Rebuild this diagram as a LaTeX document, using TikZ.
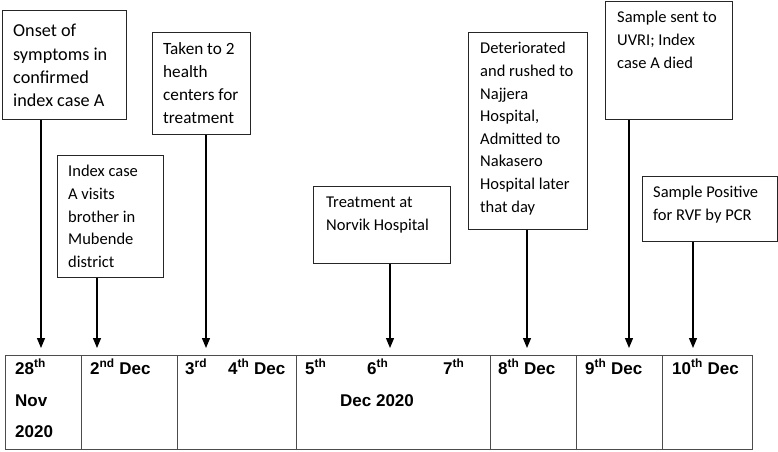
\documentclass[tikz,border=0pt]{standalone}
\usepackage{fontspec}
\setmainfont{Carlito}
\newfontfamily\tabfont{Liberation Sans}
\usetikzlibrary{arrows.meta}
\newcommand{\fl}{\rule{0pt}{14pt}}
\begin{document}
\begin{tikzpicture}[x=1pt,y=-1pt,
  evbox/.style={draw=black!85, line width=0.9pt, anchor=north west, inner sep=0pt},
  evtext/.style={anchor=north west, inner sep=0pt, align=left, font=\fontsize{16.5}{22.6}\selectfont},
  cell/.style={draw=black!70, line width=1.3pt, anchor=north west, inner sep=0pt, minimum height=94pt},
  day/.style={anchor=base west, inner sep=0pt, font=\tabfont\fontsize{17}{20}\selectfont\bfseries},
  arr/.style={line width=1.2pt, draw=black, -{Triangle[width=8pt,length=10pt]}}]
\useasboundingbox (0,0) rectangle (778,451);

% event boxes
\node[evbox, minimum width=124pt, minimum height=109pt] (b1) at (2,10) {};
\node[evtext, font=\fontsize{18.2}{23.3}\selectfont] (t1) at (13,22.6) {\fl Onset of\\symptoms in\\confirmed\\index case A};
\node[evbox, minimum width=106pt, minimum height=122pt] (b2) at (57,155) {};
\node[evtext] (t2) at (68,162.6) {\fl Index case\\A visits\\brother in\\Mubende\\district};
\node[evbox, minimum width=98pt, minimum height=102pt] (b3) at (152,32) {};
\node[evtext, font=\fontsize{17.2}{23}\selectfont] (t3) at (163,40) {\fl Taken to 2\\health\\centers for\\treatment};
\node[evbox, minimum width=137pt, minimum height=77pt] (b4) at (313,186) {};
\node[evtext] (t4) at (326,193.6) {\fl Treatment at\\Norvik Hospital};
\node[evbox, minimum width=119pt, minimum height=197pt] (b5) at (468,32) {};
\node[evtext] (t5) at (480,39.6) {\fl Deteriorated\\and rushed to\\Najjera\\Hospital,\\Admitted to\\Nakasero\\Hospital later\\that day};
\node[evbox, minimum width=127pt, minimum height=118pt] (b6) at (605,1) {};
\node[evtext] (t6) at (617,8.6) {\fl Sample sent to\\UVRI; Index\\case A died};
\node[evbox, minimum width=134.5pt, minimum height=65pt] (b7) at (642,176) {};
\node[evtext] (t7) at (653,183.6) {\fl Sample Positive\\for RVF by PCR};

% arrow targets
\coordinate (a1) at (41,348);
\coordinate (a2) at (97,348);
\coordinate (a3) at (206,348);
\coordinate (a4) at (390,348);
\coordinate (a5) at (527,348);
\coordinate (a6) at (629,348);
\coordinate (a7) at (693,348);
\draw[arr] (b1.south -| a1) -- (a1);
\draw[arr] (b2.south -| a2) -- (a2);
\draw[arr] (b3.south -| a3) -- (a3);
\draw[arr] (b4.south -| a4) -- (a4);
\draw[arr] (b5.south -| a5) -- (a5);
\draw[arr] (b6.south -| a6) -- (a6);
\draw[arr] (b7.south -| a7) -- (a7);

% timeline cells
\node[cell, minimum width=76pt] (c1) at (5,355) {};
\node[cell, minimum width=96pt] (c2) at (81,355) {};
\node[cell, minimum width=119pt] (c3) at (177,355) {};
\node[cell, minimum width=194pt] (c4) at (296,355) {};
\node[cell, minimum width=86pt] (c5) at (490,355) {};
\node[cell, minimum width=86pt] (c6) at (576,355) {};
\node[cell, minimum width=90pt] (c7) at (662,355) {};

% dates
\node[day] (d1) at (15,374) {28\textsuperscript{th}};
\node[day] (d1b) at (15,406) {Nov};
\node[day] (d1c) at (15,437) {2020};
\node[day] (d2) at (90,374) {2\textsuperscript{nd} Dec};
\node[day] (d3) at (185,374) {3\textsuperscript{rd}};
\node[day] (d3b) at (228,374) {4\textsuperscript{th} Dec};
\node[day] (d4) at (305,374) {5\textsuperscript{th}};
\node[day] (d4b) at (367,374) {6\textsuperscript{th}};
\node[day] (d4c) at (443,374) {7\textsuperscript{th}};
\node[day] (d4d) at (340,406) {Dec 2020};
\node[day] (d5) at (498,374) {8\textsuperscript{th} Dec};
\node[day] (d6) at (585,374) {9\textsuperscript{th} Dec};
\node[day] (d7) at (672,374) {10\textsuperscript{th} Dec};
\end{tikzpicture}
\end{document}
